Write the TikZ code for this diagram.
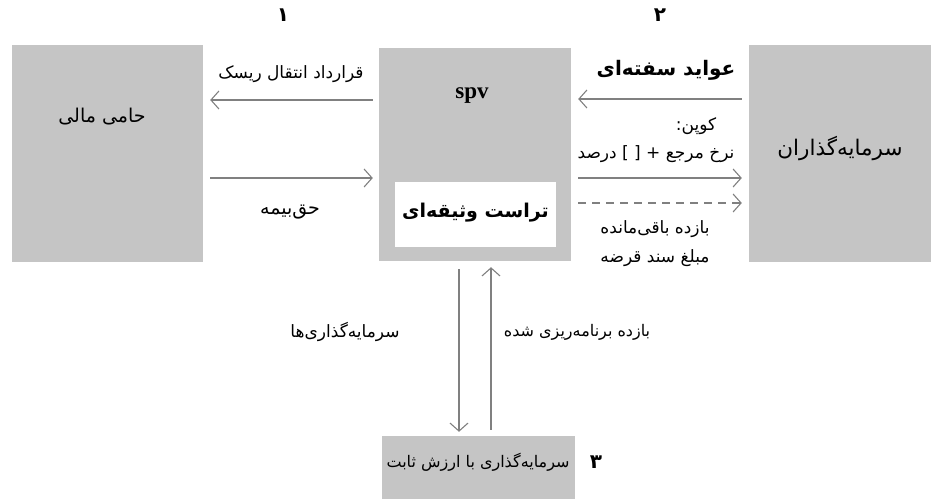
\documentclass[tikz,border=0pt]{standalone}
\usepackage{fontspec}
\setmainfont{Liberation Serif}
\newfontfamily\farsi[Script=Arabic]{DejaVu Sans}
\TeXXeTstate=1
\usetikzlibrary{arrows.meta, positioning}
\definecolor{boxgray}{RGB}{197,197,197}
\definecolor{linegray}{RGB}{128,128,128}
\newcommand{\fatext}[1]{{\farsi\beginR #1\endR}}

\begin{document}
\begin{tikzpicture}[x=1pt, y=-1pt,
  boxnode/.style={fill=boxgray, inner sep=0pt},
  flow/.style={draw=linegray, line width=1.1pt, -{Straight Barb[length=8pt,width=18pt]}},
  lbl/.style={inner sep=0pt, font=\fontsize{17}{29}\selectfont},
  biglbl/.style={inner sep=0pt, font=\fontsize{20}{24}\selectfont\bfseries}]

\useasboundingbox (0,0) rectangle (931,501);

% the four parties
\node[boxnode, minimum width=191pt, minimum height=217pt] (sponsor) at (107.5,153.5) {};
\node[boxnode, minimum width=192pt, minimum height=213pt] (spv) at (475,154.5) {};
\node[fill=white, inner sep=0pt, minimum width=161pt, minimum height=65pt] (trust) at (475.5,214.5) {};
\node[boxnode, minimum width=182pt, minimum height=217pt] (investors) at (840,153.5) {};
\node[boxnode, minimum width=193pt, minimum height=63pt] (fixed) at (478.5,467.5) {};

% texts in the boxes
\node[lbl, font=\fontsize{19}{22}\selectfont] (sponsorlbl) at (102,117) {\fatext{حامی مالی}};
\node[inner sep=0pt, font=\fontsize{23}{26}\selectfont\bfseries] (spvlbl) at (472,96) {spv};
\node[biglbl, font=\fontsize{19}{22}\selectfont\bfseries] (trustlbl) at (475.5,213) {\fatext{تراست وثیقه‌ای}};
\node[lbl, font=\fontsize{21.5}{24}\selectfont] (investorslbl) at (840,148) {\fatext{سرمایه‌گذاران}};
\node[lbl, font=\fontsize{16}{19}\selectfont] (fixedlbl) at (478,462) {\fatext{سرمایه‌گذاری با ارزش ثابت}};

% step numbers
\node[biglbl] (num1) at (283,15) {\fatext{۱}};
\node[biglbl] (num2) at (660,15) {\fatext{۲}};
\node[biglbl] (num3) at (596,462) {\fatext{۳}};

% flows between sponsor and spv
\draw[flow, shorten <=6pt, shorten >=7pt] (spv.west |- 0,100) -- (sponsor.east |- 0,100);
\draw[flow, shorten <=7pt, shorten >=6pt] (sponsor.east |- 0,178) -- (spv.west |- 0,178);
\node[lbl] (risklbl) at (291,74) {\fatext{قرارداد انتقال ریسک}};
\node[lbl, font=\fontsize{19}{22}\selectfont] (premiumlbl) at (290,212) {\fatext{حق‌بیمه}};

% flows between spv and investors
\draw[flow, shorten <=7pt, shorten >=7pt] (investors.west |- 0,99) -- (spv.east |- 0,99);
\draw[flow, shorten <=7pt, shorten >=7pt] (spv.east |- 0,178) -- (investors.west |- 0,178);
\draw[flow, dash pattern=on 8pt off 6pt, shorten <=7pt, shorten >=7pt] (spv.east |- 0,203) -- (investors.west |- 0,203);
\node[biglbl] (returnslbl) at (666,70) {\fatext{عواید سفته‌ای}};
\node[lbl] (couponlbl) at (696,126) {\fatext{کوپن\kern0pt:}};
\node[lbl] (ratelbl) at (656,154) {\fatext{نرخ مرجع + [ ] درصد}};
\node[lbl, align=center] (residuallbl) at (655,244)
  {\fatext{بازده باقی‌مانده}\\\fatext{مبلغ سند قرضه}};

% flows between spv and fixed income
\draw[flow, shorten <=8pt, shorten >=4pt] (spv.south -| 459,0) -- (fixed.north -| 459,0);
\draw[flow, shorten <=6pt, shorten >=6pt] (fixed.north -| 491,0) -- (spv.south -| 491,0);
\node[lbl] (investlbl) at (345,332) {\fatext{سرمایه‌گذاری‌ها}};
\node[lbl, font=\fontsize{16}{19}\selectfont] (schedlbl) at (577,332) {\fatext{بازده برنامه‌ریزی شده}};
\end{tikzpicture}
\end{document}
